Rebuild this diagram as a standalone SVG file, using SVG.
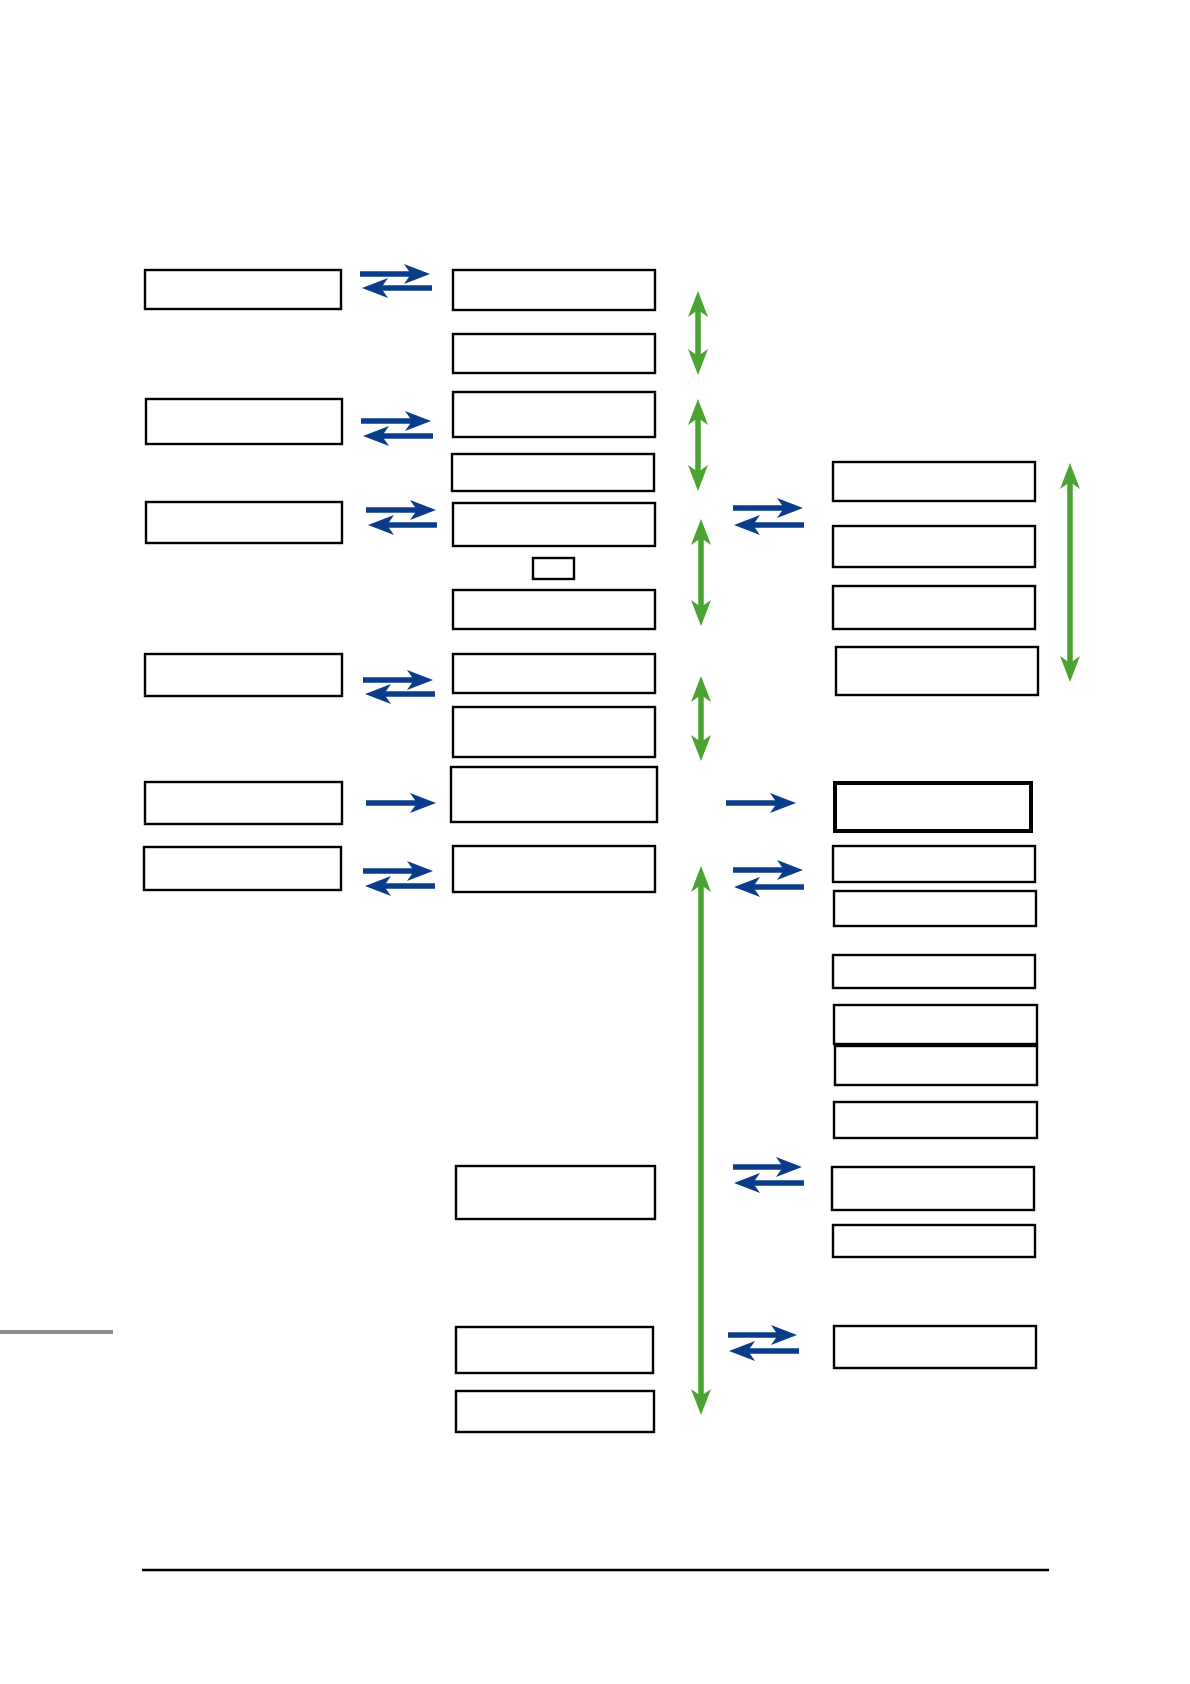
<svg xmlns="http://www.w3.org/2000/svg" width="1190" height="1684" viewBox="0 0 1190 1684">
<style>
.box{fill:#fff;stroke:#000;stroke-width:2.4}
.thick{stroke-width:4}
.blue{stroke:#0a3c8a;stroke-width:5.5;fill:none;marker-end:url(#hb)}
.green{stroke:#4ba332;stroke-width:5.5;fill:none;marker-start:url(#hg);marker-end:url(#hg)}
</style>
<defs>
<marker id="hb" markerUnits="userSpaceOnUse" viewBox="-27 -11 28 22" markerWidth="28" markerHeight="22" refX="-17" refY="0" orient="auto">
<path d="M0,0 L-26,-10 L-19,0 L-26,10 Z" fill="#0a3c8a"/>
</marker>
<marker id="hg" markerUnits="userSpaceOnUse" viewBox="-27 -11 28 22" markerWidth="28" markerHeight="22" refX="-17" refY="0" orient="auto-start-reverse">
<path d="M0,0 L-26,-10 L-19,0 L-26,10 Z" fill="#4ba332"/>
</marker>
</defs>
<rect width="1190" height="1684" fill="#fff"/>
<g id="L1"><rect class="box" x="145" y="270" width="196" height="39"/></g>
<g id="L2"><rect class="box" x="146" y="399" width="196" height="45"/></g>
<g id="L3"><rect class="box" x="146" y="502" width="196" height="41"/></g>
<g id="L4"><rect class="box" x="145" y="654" width="197" height="42"/></g>
<g id="L5"><rect class="box" x="145" y="782" width="197" height="42"/></g>
<g id="L6"><rect class="box" x="144" y="847" width="197" height="43"/></g>
<g id="M1"><rect class="box" x="453" y="270" width="202" height="40"/></g>
<g id="M2"><rect class="box" x="453" y="334" width="202" height="39"/></g>
<g id="M3"><rect class="box" x="453" y="392" width="202" height="45"/></g>
<g id="M4"><rect class="box" x="452" y="454" width="202" height="37"/></g>
<g id="M5"><rect class="box" x="453" y="503" width="202" height="43"/></g>
<g id="Msmall"><rect class="box" x="533" y="558" width="41" height="21"/></g>
<g id="M6"><rect class="box" x="453" y="590" width="202" height="39"/></g>
<g id="M7"><rect class="box" x="453" y="654" width="202" height="39"/></g>
<g id="M8"><rect class="box" x="453" y="707" width="202" height="50"/></g>
<g id="M9"><rect class="box" x="451" y="767" width="206" height="55"/></g>
<g id="M10"><rect class="box" x="453" y="846" width="202" height="46"/></g>
<g id="M11"><rect class="box" x="456" y="1166" width="199" height="53"/></g>
<g id="M12"><rect class="box" x="456" y="1327" width="197" height="46"/></g>
<g id="M13"><rect class="box" x="456" y="1391" width="198" height="41"/></g>
<g id="R1"><rect class="box" x="833" y="462" width="202" height="39"/></g>
<g id="R2"><rect class="box" x="833" y="526" width="202" height="41"/></g>
<g id="R3"><rect class="box" x="833" y="586" width="202" height="43"/></g>
<g id="R4"><rect class="box" x="836" y="647" width="202" height="48"/></g>
<g id="R5"><rect class="box thick" x="835" y="783" width="196" height="48"/></g>
<g id="R6"><rect class="box" x="833" y="846" width="202" height="36"/></g>
<g id="R7"><rect class="box" x="834" y="891" width="202" height="35"/></g>
<g id="R8"><rect class="box" x="833" y="955" width="202" height="33"/></g>
<g id="R9"><rect class="box" x="834" y="1005" width="203" height="39"/></g>
<g id="R10"><rect class="box" x="835" y="1046" width="202" height="39"/></g>
<g id="R11"><rect class="box" x="834" y="1102" width="203" height="36"/></g>
<g id="R12"><rect class="box" x="832" y="1167" width="202" height="43"/></g>
<g id="R13"><rect class="box" x="833" y="1225" width="202" height="32"/></g>
<g id="R14"><rect class="box" x="834" y="1326" width="202" height="42"/></g>
<g id="connectors">
<line class="blue" x1="360" y1="274" x2="413" y2="274"/>
<line class="blue" x1="432" y1="288" x2="379" y2="288"/>
<line class="blue" x1="361" y1="421" x2="414" y2="421"/>
<line class="blue" x1="433" y1="436" x2="380" y2="436"/>
<line class="blue" x1="366" y1="510" x2="419" y2="510"/>
<line class="blue" x1="437" y1="525" x2="385" y2="525"/>
<line class="blue" x1="363" y1="680" x2="416" y2="680"/>
<line class="blue" x1="435" y1="694" x2="382" y2="694"/>
<line class="blue" x1="366" y1="803" x2="419" y2="803"/>
<line class="blue" x1="363" y1="871" x2="416" y2="871"/>
<line class="blue" x1="435" y1="886" x2="382" y2="886"/>
<line class="blue" x1="733" y1="508" x2="786" y2="508"/>
<line class="blue" x1="804" y1="525" x2="751" y2="525"/>
<line class="blue" x1="726" y1="803" x2="779" y2="803"/>
<line class="blue" x1="733" y1="870" x2="786" y2="870"/>
<line class="blue" x1="804" y1="887" x2="751" y2="887"/>
<line class="blue" x1="733" y1="1167" x2="785" y2="1167"/>
<line class="blue" x1="804" y1="1183" x2="751" y2="1183"/>
<line class="blue" x1="728" y1="1335" x2="780" y2="1335"/>
<line class="blue" x1="799" y1="1351" x2="746" y2="1351"/>
<line class="green" x1="698" y1="308" x2="698" y2="358"/>
<line class="green" x1="698" y1="416" x2="698" y2="474"/>
<line class="green" x1="701" y1="536" x2="701" y2="609"/>
<line class="green" x1="701" y1="693" x2="701" y2="744"/>
<line class="green" x1="701" y1="883" x2="701" y2="1398"/>
<line class="green" x1="1070" y1="480" x2="1070" y2="665"/>
</g>
<line x1="0" y1="1332" x2="113" y2="1332" stroke="#8c8c8c" stroke-width="4"/>
<line x1="142" y1="1570" x2="1049" y2="1570" stroke="#000" stroke-width="2.5"/>
</svg>
